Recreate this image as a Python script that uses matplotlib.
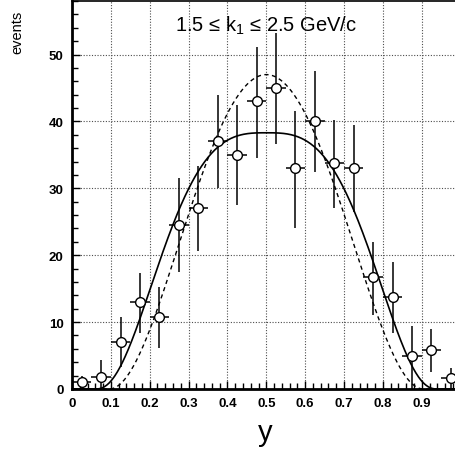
import numpy as np
import matplotlib
matplotlib.use("Agg")
import matplotlib.pyplot as plt
from matplotlib.ticker import MultipleLocator

# measured rapidity distribution (bin centres, counts, errors)
y_bins = [0.025, 0.075, 0.125, 0.175, 0.225, 0.275, 0.325, 0.375, 0.425, 0.475,
          0.525, 0.575, 0.625, 0.675, 0.725, 0.775, 0.825, 0.875, 0.925, 0.975]
events = [1.0, 1.8, 7.0, 13.0, 10.8, 24.5, 27.0, 37.0, 35.0, 43.0,
          45.0, 33.0, 40.0, 33.8, 33.0, 16.7, 13.7, 5.0, 5.8, 1.6]
err_lo = [1.0, 1.8, 3.7, 4.6, 4.7, 7.0, 6.3, 7.0, 7.5, 8.4,
          8.4, 9.0, 7.5, 6.7, 6.5, 5.6, 5.4, 5.0, 3.3, 1.6]
err_hi = [1.0, 2.5, 3.7, 4.4, 4.5, 7.0, 6.3, 7.0, 7.5, 8.1,
          8.2, 8.5, 7.5, 6.4, 6.4, 5.2, 5.3, 4.4, 3.2, 1.6]
bin_half = 0.025

# fit curves: A * (1 - |u|^p)^n, u = (y - y0) / w
solid_fit = dict(A=38.3, y0=0.5, w=0.44, p=3.0, n=2.5)
dashed_fit = dict(A=47.0, y0=0.5, w=0.405, p=2.0, n=2.1)


def fit_curve(y, A, y0, w, p, n):
    u = np.abs((y - y0) / w)
    base = np.clip(1.0 - u**p, 0.0, None)
    return A * base**n


plt.rcParams['font.family'] = ['Liberation Sans', 'DejaVu Sans']

fig = plt.figure(figsize=(4.56, 4.52), dpi=100)
ax = fig.add_axes([72/456, 62/452, 388.6/456, 388/452])

yy = np.linspace(0, 1, 600)
ax.plot(yy, fit_curve(yy, **solid_fit), color="black", lw=1.2, zorder=3)
ax.plot(yy, fit_curve(yy, **dashed_fit), color="black", lw=1.0,
        ls=(0, (3, 2.5)), zorder=3)

ax.errorbar(y_bins, events, yerr=[err_lo, err_hi], xerr=bin_half,
            fmt="o", ms=7, mfc="white", mec="black", mew=1.0,
            ecolor="black", elinewidth=1.1, capsize=0, zorder=4)

ax.set_xlim(0, 1)
ax.set_ylim(0, 58)
ax.xaxis.set_major_locator(MultipleLocator(0.1))
ax.xaxis.set_minor_locator(MultipleLocator(0.02))
ax.yaxis.set_major_locator(MultipleLocator(10))
ax.yaxis.set_minor_locator(MultipleLocator(2))
ax.set_xticks(np.arange(0, 1.0, 0.1))
ax.set_xticklabels(["0"] + ["%.1f" % v for v in np.arange(0.1, 0.95, 0.1)])

ax.grid(True, which="major", ls=(0, (1, 1.5)), color="0.3", lw=0.8)
ax.tick_params(which="both", direction="in", top=False, right=False,
               labelsize=9.5, width=1.0)
ax.tick_params(which="major", length=6, pad=6)
ax.tick_params(which="minor", length=4)
for lab in ax.get_xticklabels() + ax.get_yticklabels():
    lab.set_fontweight("bold")

ax.spines["right"].set_visible(False)
ax.spines["left"].set_linewidth(2.0)
ax.spines["bottom"].set_linewidth(2.0)
ax.spines["top"].set_linewidth(1.2)

ax.text(0.5, 54.5, "1.5 \u2264 k$_\\mathregular{1}$ \u2264 2.5 GeV/c",
        ha="center", va="center", fontsize=14.5)
fig.text(17/456, 1 - 11/452, "events", rotation=90, ha="center", va="top",
         fontsize=10.5)
fig.text(265/456, 1 - 433/452, "y", ha="center", va="center", fontsize=21)

fig.savefig("out.png", dpi=100)
